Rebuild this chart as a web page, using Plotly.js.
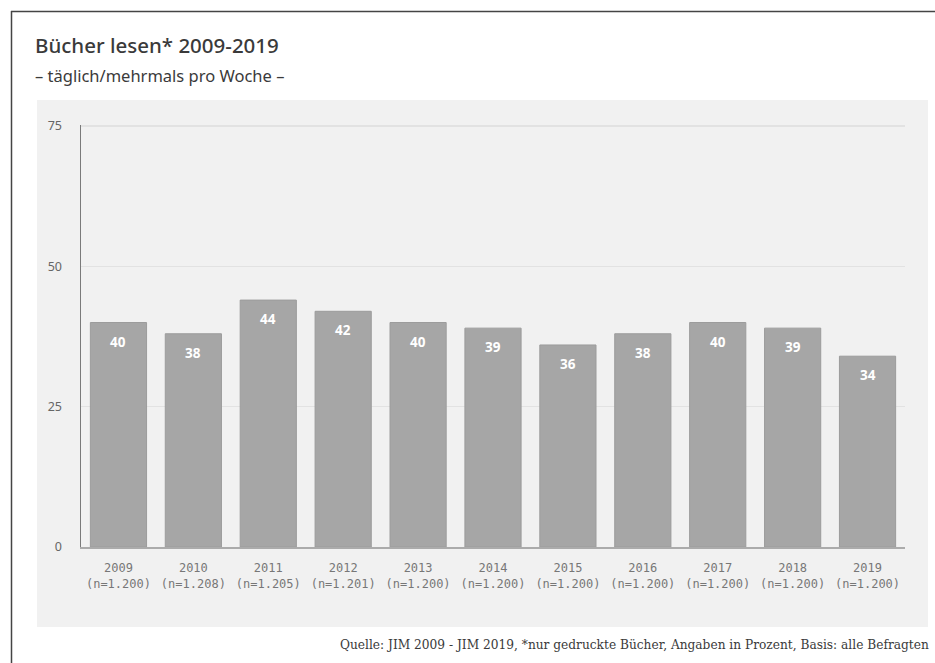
<!DOCTYPE html>
<html>
<head>
<meta charset="utf-8">
<script src="https://cdn.plot.ly/plotly-3.0.1.min.js"></script>
<style>html,body{margin:0;padding:0;background:#fff;}#chart{width:935px;height:663px;}</style>
</head>
<body>
<div id="chart"></div>
<script>
const years = ["2009","2010","2011","2012","2013","2014","2015","2016","2017","2018","2019"];
const sampleSizes = ["1.200","1.208","1.205","1.201","1.200","1.200","1.200","1.200","1.200","1.200","1.200"];
const values = [40, 38, 44, 42, 40, 39, 36, 38, 40, 39, 34];
const yTicks = [0, 25, 50, 75];

const tickText = years.map((y, i) => y + "<br>(n=" + sampleSizes[i] + ")");

const trace = {
  type: "bar",
  x: years,
  y: values,
  width: 0.75,
  marker: {color: "#a6a6a6", line: {color: "#9c9c9c", width: 1}},
  hoverinfo: "x+y",
  cliponaxis: false
};

const annotations = years.map((y, i) => ({
  x: i, y: values[i], xref: "x", yref: "y",
  text: "<b>" + values[i] + "</b>", showarrow: false,
  yanchor: "middle", yshift: -19,
  font: {family: "Noto Sans, sans-serif", size: 13.5, color: "#ffffff"}
}));

annotations.push({
  xref: "paper", yref: "paper", x: -(81 - 33) / 824, y: 1.0 + (125 - 45) / 422,
  xanchor: "left", yanchor: "middle", showarrow: false,
  text: "Bücher lesen* 2009-2019",
  font: {family: "Noto Sans, sans-serif", size: 20.5, color: "#3a3a3a", weight: 500}
});
annotations.push({
  xref: "paper", yref: "paper", x: -(81 - 33) / 824, y: 1.0 + (125 - 75) / 422,
  xanchor: "left", yanchor: "middle", showarrow: false,
  text: "– täglich/mehrmals pro Woche –",
  font: {family: "Noto Sans, sans-serif", size: 16.5, color: "#3a3a3a"}
});
annotations.push({
  xref: "paper", yref: "paper", x: 1.0 + 26 / 824, y: -(645 - 547) / 422,
  xanchor: "right", yanchor: "middle", showarrow: false,
  text: "Quelle: JIM 2009 - JIM 2019, *nur gedruckte Bücher, Angaben in Prozent, Basis: alle Befragten",
  font: {family: "DejaVu Serif, serif", size: 12.2, color: "#3a3a3a"}
});

const layout = {
  width: 935, height: 663,
  margin: {l: 81, r: 30, t: 125, b: 116},
  paper_bgcolor: "#ffffff",
  plot_bgcolor: "rgba(0,0,0,0)",
  showlegend: false,
  bargap: 0.25,
  xaxis: {
    type: "category",
    tickvals: years, ticktext: tickText,
    range: [-0.5, 10.5],
    showline: true, linecolor: "#ababab", linewidth: 2,
    ticks: "", showgrid: false, zeroline: false,
    tickfont: {family: "DejaVu Sans Mono, monospace", size: 12, color: "#777"},
    ticklabelstandoff: 9,
    fixedrange: true
  },
  yaxis: {
    range: [0, 75.2],
    tickvals: yTicks,
    showline: true, linecolor: "#7a7a7a", linewidth: 1.5,
    showgrid: true, gridcolor: "#e2e2e2", gridwidth: 1.5,
    zeroline: false, ticks: "",
    tickfont: {family: "Noto Sans, sans-serif", size: 12.5, color: "#666"},
    ticklabelstandoff: 15,
    fixedrange: true
  },
  shapes: [
    {type: "rect", xref: "paper", yref: "paper", layer: "below",
     x0: -(81 - 37) / 824, x1: 1 + (928 - 905) / 824,
     y0: -(627 - 547) / 422, y1: 1 + (125 - 100) / 422,
     fillcolor: "#f1f1f1", line: {width: 0}},
    {type: "line", xref: "paper", yref: "paper",
     x0: -(81 - 11) / 824, x1: 1 + 40 / 824,
     y0: 1 + (125 - 11.5) / 422, y1: 1 + (125 - 11.5) / 422,
     line: {color: "#444", width: 1.5}},
    {type: "line", xref: "paper", yref: "paper",
     x0: -(81 - 11.5) / 824, x1: -(81 - 11.5) / 824,
     y0: 1 + (125 - 11) / 422, y1: -(663 - 547 + 5) / 422,
     line: {color: "#444", width: 1.5}}
  ],
  annotations: annotations
};

Plotly.newPlot("chart", [trace], layout, {displayModeBar: false, staticPlot: true});
</script>
</body>
</html>
